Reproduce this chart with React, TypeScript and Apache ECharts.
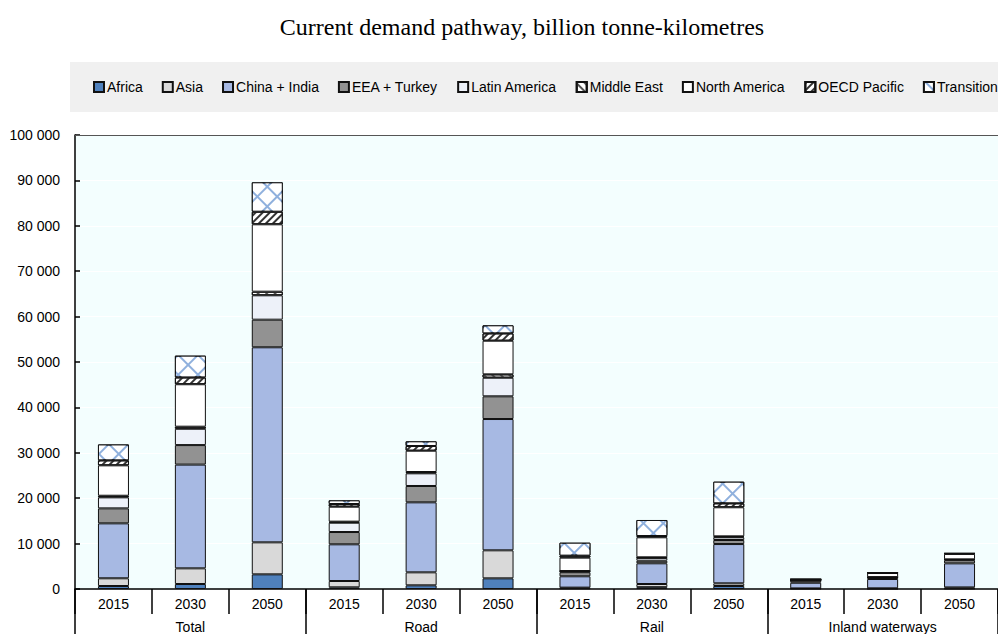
import React, { useEffect, useRef } from "react";
import * as echarts from "echarts";

const years = ["2015", "2030", "2050", "2015", "2030", "2050", "2015", "2030", "2050", "2015", "2030", "2050"];
const groups = ["Total", "Road", "Rail", "Inland waterways"];
const yTicks = { min: 0, max: 100000, interval: 10000 };

const africa = [660, 1100, 3230, 370, 810, 2350, 150, 400, 660, 80, 50, 100];
const asia = [1700, 3450, 7050, 1390, 2860, 6170, 150, 700, 590, 50, 100, 250];
const chinaIndia = [12100, 22850, 42960, 8080, 15420, 28920, 2500, 4560, 8650, 1250, 2050, 5300];
const eeaTurkey = [3300, 4300, 6080, 2710, 3600, 5000, 900, 570, 890, 450, 300, 700];
const latinAmerica = [2430, 3600, 5370, 2050, 2790, 4100, 210, 620, 600, 60, 100, 150];
const middleEast = [350, 450, 800, 230, 290, 740, 50, 130, 210, 20, 20, 30];
const northAmerica = [6700, 9350, 14840, 3300, 4690, 7410, 2950, 4410, 6400, 200, 900, 1200];
const oecdPacific = [1100, 1500, 2780, 590, 1040, 1620, 440, 280, 880, 20, 50, 100];
const transition = [3500, 4800, 6470, 810, 1030, 1770, 2850, 3530, 4760, 0, 30, 30];

const FONT = "Liberation Sans, Arial, sans-serif";

export default function App() {
  const ref = useRef<HTMLDivElement>(null);
  useEffect(() => {
    if (!ref.current) return;
    const chart = echarts.init(ref.current, undefined, { renderer: "svg" });
    const border = { borderColor: "#111", borderWidth: 1 };
    const mk = (name: string, data: number[], style: any, extra: any = {}) => ({
      name,
      type: "bar",
      stack: "s",
      data,
      barWidth: 31,
      xAxisIndex: 0,
      yAxisIndex: 0,
      itemStyle: { ...border, ...style },
      ...extra,
    });
    const series = [
      mk("Africa", africa, { color: "#4f81bd" }, {
        markLine: {
          silent: true,
          symbol: "none",
          label: { show: false },
          lineStyle: { color: "#555", width: 1, type: "solid" },
          data: [{ yAxis: 100000 }],
        },
      }),
      mk("Asia", asia, { color: "#d9d9d9" }),
      mk("China + India", chinaIndia, { color: "#a7b9e3" }),
      mk("EEA + Turkey", eeaTurkey, { color: "#929292" }),
      mk("Latin America", latinAmerica, { color: "#edf1f9" }),
      mk("Middle East", middleEast, {
        color: "#ffffff",
        decal: {
          symbol: "rect",
          color: "#555",
          backgroundColor: "#ffffff",
          dashArrayX: [1, 0],
          dashArrayY: [1.5, 3.5],
          rotation: Math.PI / 4,
        },
      }),
      mk("North America", northAmerica, { color: "#ffffff" }),
      mk("OECD Pacific", oecdPacific, {
        color: "#ffffff",
        decal: {
          symbol: "rect",
          color: "#333",
          backgroundColor: "#ffffff",
          dashArrayX: [1, 0],
          dashArrayY: [2, 3],
          rotation: -Math.PI / 4,
        },
      }),
      mk("Transition", transition, {
        color: "#8fb0dd",
        decal: {
          symbol: "rect",
          symbolSize: 1,
          color: "#ffffff",
          backgroundColor: "#8fb0dd",
          dashArrayX: [12, 2],
          dashArrayY: [12, 2],
          rotation: Math.PI / 4,
        },
      }),
    ];
    chart.setOption({
      animation: false,
      backgroundColor: "#ffffff",
      textStyle: { fontFamily: FONT },
      title: {
        text: "Current demand pathway, billion tonne-kilometres",
        left: 517,
        textAlign: "center",
        top: 10,
        textStyle: {
          fontFamily: "Liberation Serif, Times New Roman, serif",
          fontWeight: "normal",
          fontSize: 24,
          color: "#000",
        },
      },
      legend: {
        left: 70,
        top: 62,
        width: 1400,
        padding: [18, 30, 18, 23],
        backgroundColor: "#f0f0f0",
        itemWidth: 10,
        itemHeight: 10,
        itemGap: 19,
        icon: "rect",
        textStyle: { fontSize: 14, color: "#000", fontFamily: FONT, padding: [0, 0, 0, -2] },
        data: series.map((s) => s.name),
      },
      grid: {
        left: 75,
        top: 135,
        width: 936,
        height: 454,
        show: true,
        backgroundColor: "#f3fefe",
        borderWidth: 0,
        containLabel: false,
      },
      xAxis: [
        {
          type: "category",
          data: years,
          position: "bottom",
          axisLine: { show: true, lineStyle: { color: "#000", width: 1.5 } },
          axisTick: { show: true, interval: 0, length: 25, lineStyle: { color: "#000", width: 1.5 } },
          axisLabel: { interval: 0, fontSize: 14, color: "#000", margin: 8, fontFamily: FONT },
          splitLine: { show: false },
        },
        {
          type: "category",
          data: groups,
          position: "bottom",
          gridIndex: 0,
          axisLine: { show: false },
          axisTick: { show: true, interval: 0, length: 50, lineStyle: { color: "#000", width: 1.5 } },
          axisLabel: { interval: 0, fontSize: 14, color: "#000", margin: 31, fontFamily: FONT },
          splitLine: { show: false },
        },
      ],
      yAxis: {
        type: "value",
        min: yTicks.min,
        max: yTicks.max,
        interval: yTicks.interval,
        axisLine: { show: true, lineStyle: { color: "#000", width: 1.5 } },
        axisTick: { show: true, inside: true, length: 5, lineStyle: { color: "#000", width: 1.5 } },
        axisLabel: {
          fontSize: 14,
          color: "#000",
          margin: 15,
          fontFamily: FONT,
          formatter: (v: number) => String(v).replace(/\B(?=(\d{3})+(?!\d))/g, " "),
        },
        splitLine: { show: true, lineStyle: { color: "#ffffff", width: 1 } },
      },
      series,
    });
    return () => chart.dispose();
  }, []);
  return (
    <div
      ref={ref}
      style={{ position: "fixed", left: 0, top: 0, width: 998, height: 634 }}
    />
  );
}
